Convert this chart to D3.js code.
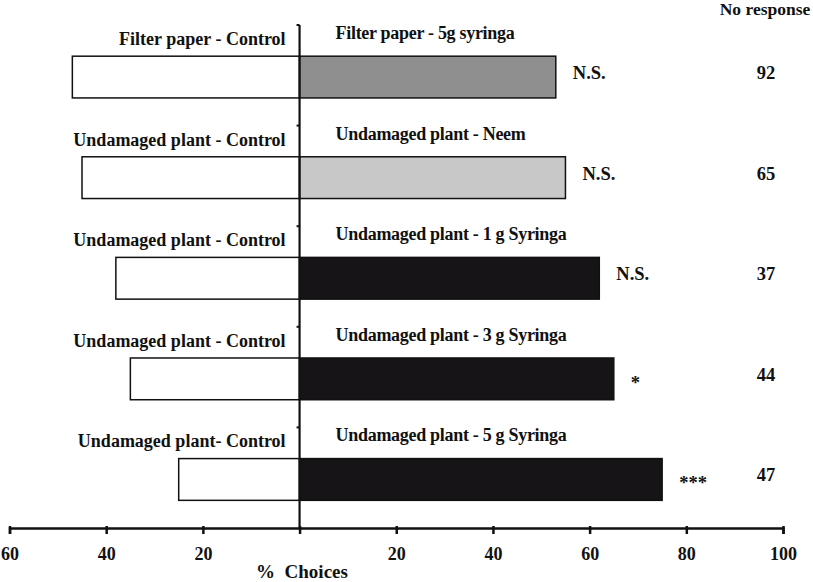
<!DOCTYPE html>
<html>
<head>
<meta charset="utf-8">
<script src="https://cdn.jsdelivr.net/npm/d3@7"></script>
<style>
  html, body { margin: 0; padding: 0; background: #fff; }
  svg { display: block; font-family: "Liberation Serif", "Times New Roman", serif; font-weight: bold; }
</style>
</head>
<body>
<svg id="chart" width="813" height="582"></svg>
<script>
const rows = ["r1", "r2", "r3", "r4", "r5"];
const leftLabels = ["Filter paper - Control", "Undamaged plant - Control", "Undamaged plant - Control", "Undamaged plant - Control", "Undamaged plant- Control"];
const rightLabels = ["Filter paper - 5g syringa", "Undamaged plant - Neem", "Undamaged plant - 1 g Syringa", "Undamaged plant - 3 g Syringa", "Undamaged plant - 5 g Syringa"];
const controlValues = [47, 45, 38, 35, 25];
const treatmentValues = [53, 55, 62, 65, 75];
const treatmentFills = ["#8f8f8f", "#c8c8c8", "#161416", "#161416", "#161416"];
const significance = ["N.S.", "N.S.", "N.S.", "*", "***"];
const noResponse = [92, 65, 37, 44, 47];
const tickValues = [-60, -40, -20, 0, 20, 40, 60, 80, 100];
const tickLabels = ["60", "40", "20", "", "20", "40", "60", "80", "100"];

const svg = d3.select("#chart");
const x = d3.scaleLinear().domain([-60, 100]).range([9.5, 783]);
const y = d3.scaleBand().domain(rows).range([25, 528]).padding(0);
const bw = y.bandwidth();
const barTop = d => y(d) + bw * 0.31;
const barH = bw * 0.415;

// bars: control (left)
svg.append("g").selectAll("rect").data(rows).join("rect")
  .attr("x", (d, i) => x(-controlValues[i]))
  .attr("y", d => barTop(d))
  .attr("width", (d, i) => x(0) - x(-controlValues[i]))
  .attr("height", barH)
  .attr("fill", "#fff").attr("stroke", "#111").attr("stroke-width", 1.5);

// bars: treatment (right)
svg.append("g").selectAll("rect").data(rows).join("rect")
  .attr("x", x(0))
  .attr("y", d => barTop(d))
  .attr("width", (d, i) => x(treatmentValues[i]) - x(0))
  .attr("height", barH)
  .attr("fill", (d, i) => treatmentFills[i]).attr("stroke", "#111").attr("stroke-width", 1.5);

// x axis
const xAxis = d3.axisBottom(x).tickValues(tickValues).tickSize(6)
  .tickFormat((d, i) => tickLabels[i]);
const gx = svg.append("g").attr("transform", "translate(0,528)").call(xAxis);
gx.select(".domain").attr("stroke", "#111").attr("stroke-width", 2.5);
gx.selectAll(".tick line").attr("stroke", "#111").attr("stroke-width", 2.5).attr("y1", -2);
gx.selectAll(".tick text").attr("font-family", "Liberation Serif").attr("font-weight", "bold")
  .attr("font-size", 18).attr("fill", "#111").attr("dy", "0").attr("y", 32);

// vertical axis at 0
const yAxis = d3.axisLeft(y).tickValues(rows).tickSize(3).tickFormat("");
const gy = svg.append("g").attr("transform", `translate(${x(0)},0)`).call(yAxis);
gy.selectAll(".tick").attr("transform", d => `translate(0,${y(d)})`);
gy.select(".domain").attr("stroke", "#111").attr("stroke-width", 2.2).attr("d", `M0,${y.range()[0]}V${y.range()[1]}`);
gy.selectAll(".tick line").attr("stroke", "#111").attr("stroke-width", 2);

// left labels
svg.append("g").selectAll("text").data(rows).join("text")
  .attr("x", x(0) - 14)
  .attr("y", d => y(d) + 20)
  .attr("text-anchor", "end")
  .attr("font-size", 18).attr("fill", "#111")
  .text((d, i) => leftLabels[i]);

// right labels
svg.append("g").selectAll("text").data(rows).join("text")
  .attr("x", x(0) + 36)
  .attr("y", d => y(d) + 14)
  .attr("font-size", 18).attr("fill", "#111")
  .attr("letter-spacing", -0.3)
  .text((d, i) => rightLabels[i]);

// significance
svg.append("g").selectAll("text").data(rows).join("text")
  .attr("x", (d, i) => x(treatmentValues[i]) + 17)
  .attr("y", (d, i) => barTop(d) + barH / 2 + (significance[i].startsWith("*") ? 10 : 2))
  .attr("font-size", 18.5).attr("fill", "#111")
  .text((d, i) => significance[i]);

// no response
svg.append("text").attr("x", 765).attr("y", 15).attr("text-anchor", "middle")
  .attr("font-size", 17.5).attr("fill", "#111").text("No response");
svg.append("g").selectAll("text").data(rows).join("text")
  .attr("x", 766)
  .attr("y", d => barTop(d) + barH / 2 + 2)
  .attr("text-anchor", "middle")
  .attr("font-size", 18.5).attr("fill", "#111")
  .text((d, i) => noResponse[i]);

// axis title
svg.append("text").attr("x", 302).attr("y", 578).attr("text-anchor", "middle")
  .attr("font-size", 19).attr("fill", "#111").attr("xml:space", "preserve").text("%  Choices");
</script>
</body>
</html>
